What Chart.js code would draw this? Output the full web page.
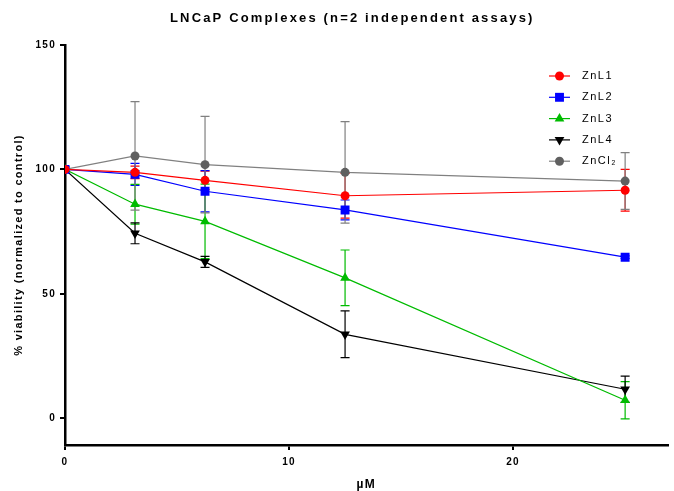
<!DOCTYPE html>
<html>
<head>
<meta charset="utf-8">
<script src="https://cdn.jsdelivr.net/npm/chart.js@4"></script>
<style>
  body { margin: 0; background: #fff; }
  #wrap { width: 674px; height: 491px; position: relative; }
</style>
</head>
<body>
<div id="wrap"><canvas id="chart"></canvas></div>
<script>
// concentrations (µM)
const doses = [0, 3.125, 6.25, 12.5, 25];

// % viability, means and errors
const znL1 = [100, 98.8, 95.6, 89.4, 91.6];
const znL1Err = [0, 2.5, 3.7, 9, 8.4];
const znL2 = [100, 98, 91.2, 83.7, 64.7];
const znL2Err = [0, 4.4, 8.3, 4, 0.5];
const znL3 = [100, 86, 79.1, 56.4, 7.2];
const znL3Err = [0, 8, 15, 11.2, 7.5];
const znL4 = [100, 74.3, 62.8, 33.7, 11.6];
const znL4Err = [0, 4.2, 2.2, 9.4, 5.3];
const znCl2 = [100, 105.4, 101.9, 98.8, 95.3];
const znCl2Err = [0, 21.8, 19.4, 20.4, 11.4];

const xTicks = [0, 10, 20];
const yTicks = [0, 50, 100, 150];

const pts = (ys) => ys.map((y, i) => ({ x: doses[i], y: y }));

const radiusFor = { circle: 4.5, rect: 6.3, triangle: 5.6 };

function series(label, ys, errs, color, style, rot, lineColor) {
    return {
        label: label,
        data: pts(ys),
        errors: errs,
        borderColor: lineColor || color,
        backgroundColor: color,
        pointBorderColor: color,
        pointBackgroundColor: color,
        pointStyle: style,
        rotation: rot,
        pointRadius: radiusFor[style],
        borderWidth: 1.2,
        pointBorderWidth: 0,
        tension: 0
    };
}

const datasets = [
    series('ZnL1', znL1, znL1Err, '#ff0000', 'circle', 0),
    series('ZnL2', znL2, znL2Err, '#0000ff', 'rect', 0),
    series('ZnL3', znL3, znL3Err, '#00bb00', 'triangle', 0),
    series('ZnL4', znL4, znL4Err, '#000000', 'triangle', 180),
    series('ZnCl₂', znCl2, znCl2Err, '#606060', 'circle', 0, '#808080')
];

// error bars drawn with the chart's scales
const errorBars = {
    id: 'errorBars',
    beforeDatasetsDraw(chart) {
        const ctx = chart.ctx;
        const xs = chart.scales.x, ys = chart.scales.y;
        ctx.save();
        ctx.lineWidth = 1.2;
        chart.data.datasets.forEach((ds) => {
            ctx.strokeStyle = ds.borderColor;
            ds.data.forEach((p, i) => {
                const e = ds.errors[i];
                if (!e) return;
                const px = xs.getPixelForValue(p.x);
                const top = ys.getPixelForValue(p.y + e);
                const bot = ys.getPixelForValue(p.y - e);
                ctx.beginPath();
                ctx.moveTo(px, top); ctx.lineTo(px, bot);
                ctx.moveTo(px - 4.5, top); ctx.lineTo(px + 4.5, top);
                ctx.moveTo(px - 4.5, bot); ctx.lineTo(px + 4.5, bot);
                ctx.stroke();
            });
        });
        ctx.restore();
    }
};

// spaced-out text like the original, plus title and legend
const textBits = {
    id: 'textBits',
    beforeDraw(chart) {
        chart.ctx.letterSpacing = '1.3px';
    },
    afterDraw(chart) {
        const ctx = chart.ctx;
        ctx.save();
        ctx.fillStyle = '#000';
        ctx.letterSpacing = '2.15px';
        ctx.font = 'bold 13px "Liberation Sans", Arial, sans-serif';
        ctx.textAlign = 'left';
        ctx.textBaseline = 'middle';
        ctx.fillText('LNCaP Complexes (n=2 independent assays)', 170, 18);

        ctx.letterSpacing = '1.5px';
        ctx.font = '11px "Liberation Sans", Arial, sans-serif';
        chart.data.datasets.forEach((ds, i) => {
            const y = 76 + i * 21.3;
            ctx.strokeStyle = ds.borderColor;
            ctx.lineWidth = 1.2;
            ctx.beginPath();
            ctx.moveTo(549, y); ctx.lineTo(570, y);
            ctx.stroke();
            ctx.fillStyle = ds.pointBackgroundColor;
            Chart.helpers.drawPoint(ctx, {
                pointStyle: ds.pointStyle,
                rotation: ds.rotation,
                radius: ds.pointRadius,
                borderWidth: 0
            }, 559.5, y);
            ctx.fillStyle = '#000';
            ctx.fillText(ds.label, 582, y);
        });
        ctx.restore();
    }
};

const chart = document.querySelector('#chart').getContext('2d');

new Chart(chart, {
    type: 'line',
    data: { datasets: datasets },
    plugins: [errorBars, textBits],
    options: {
        responsive: true,
        maintainAspectRatio: false,
        animation: false,
        layout: { padding: { top: 45, right: 2, left: 0, bottom: 0 } },
        plugins: {
            legend: { display: false },
            tooltip: { enabled: false }
        },
        scales: {
            x: {
                type: 'linear',
                min: 0,
                max: 26.9,
                afterBuildTicks: (s) => { s.ticks = xTicks.map(v => ({ value: v })); },
                afterFit: (s) => { s.height = 46; },
                grid: { drawOnChartArea: false, drawTicks: true, tickLength: 5, color: '#000', lineWidth: 2 },
                border: { display: true, color: '#000', width: 2.5 },
                ticks: {
                    color: '#000',
                    padding: 6,
                    font: { family: '"Liberation Sans", Arial, sans-serif', size: 10, weight: 'bold' }
                },
                title: {
                    display: true,
                    text: 'µM',
                    color: '#000',
                    padding: { top: 0, bottom: 0 },
                    font: { family: '"Liberation Sans", Arial, sans-serif', size: 12, weight: 'bold', lineHeight: 1 }
                }
            },
            y: {
                min: -10.8,
                max: 150,
                afterBuildTicks: (s) => { s.ticks = yTicks.map(v => ({ value: v })); },
                afterFit: (s) => { s.width = 65; },
                grid: { drawOnChartArea: false, drawTicks: true, tickLength: 5, color: '#000', lineWidth: 2 },
                border: { display: true, color: '#000', width: 2.5 },
                ticks: {
                    color: '#000',
                    padding: 4,
                    font: { family: '"Liberation Sans", Arial, sans-serif', size: 10, weight: 'bold' }
                },
                title: {
                    display: true,
                    text: '% viability (normalized to control)',
                    color: '#000',
                    padding: { top: 12, bottom: 0 },
                    font: { family: '"Liberation Sans", Arial, sans-serif', size: 11, weight: 'bold', lineHeight: 1.2 }
                }
            }
        }
    }
});
</script>
</body>
</html>
